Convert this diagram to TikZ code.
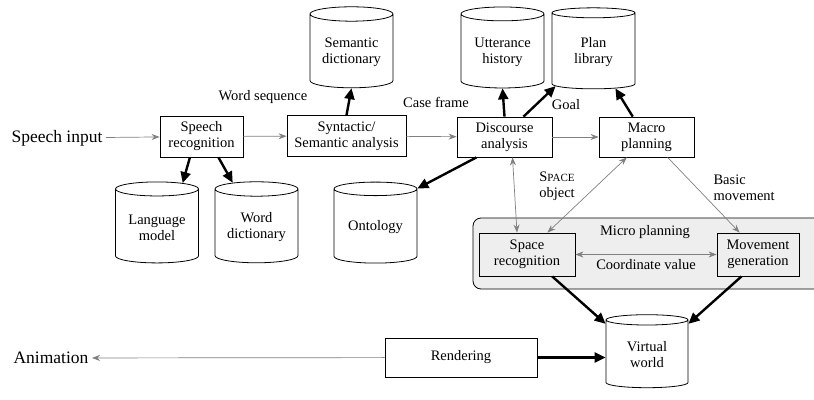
\documentclass[tikz,border=0pt]{standalone}
\usepackage{fontspec}
\setmainfont{Liberation Serif}
\usetikzlibrary{shapes.geometric,arrows.meta}

\begin{document}
\begin{tikzpicture}[x=1pt,y=-1pt,
    box/.style={draw,thick,align=center,inner sep=1pt,font=\fontsize{14.5}{16}\selectfont},
    store/.style={draw,thick,cylinder,shape border rotate=90,aspect=0.22,align=center,
      minimum width=83pt,minimum height=81pt,font=\fontsize{14.5}{16}\selectfont},
    flow/.style={gray,line width=0.7pt,-{Stealth[length=8pt,width=6pt]}},
    twoway/.style={flow,{Stealth[length=8pt,width=6pt]}-{Stealth[length=8pt,width=6pt]}},
    heavy/.style={line width=2.4pt,-{Triangle[length=11pt,width=10pt]}},
    tag/.style={text=black,font=\fontsize{14.5}{16}\selectfont,align=center}]
\useasboundingbox (0,0) rectangle (814,399);

% micro planning area
\node[draw,thick,rounded corners=8pt,fill=gray!13,minimum width=357pt,minimum height=71pt] (micro) at (651.5,253.5) {};
\node[tag] (microlbl) at (645,232) {Micro planning};

% processing boxes
\node[box,minimum width=83pt,minimum height=41pt] (sr) at (201.5,136.5) {Speech\\recognition};
\node[box,minimum width=119pt,minimum height=41pt] (sa) at (346.5,136) {Syntactic/\\Semantic analysis};
\node[box,minimum width=95pt,minimum height=40pt] (da) at (504.5,137) {Discourse\\analysis};
\node[box,minimum width=95pt,minimum height=40pt] (mp) at (646.5,137) {Macro\\planning};
\node[box,minimum width=96pt,minimum height=43pt] (spr) at (527,254.5) {Space\\recognition};
\node[box,minimum width=82pt,minimum height=43pt] (mg) at (758,254.5) {Movement\\generation};
\node[box,minimum width=152pt,minimum height=39pt] (rd) at (461,357.5) {Rendering};

% databases
\node[store] (sd) at (351.5,52.5) {Semantic\\dictionary};
\node[store] (uh) at (502.5,52.5) {Utterance\\history};
\node[store] (pl) at (593.5,52) {Plan\\library};
\node[store] (lm) at (157,227.5) {Language\\model};
\node[store] (wd) at (256.5,227.5) {Word\\dictionary};
\node[store] (ont) at (375.5,227.5) {Ontology};
\node[store,minimum width=82pt,minimum height=73pt] (vw) at (647,355) {Virtual\\world};

% input / output
\node[font=\fontsize{17.5}{19}\selectfont,anchor=east] (in) at (106,138) {Speech input};
\node[font=\fontsize{17.5}{19}\selectfont,anchor=east] (anim) at (92,358) {Animation};

% labels
\node[tag] (wseq) at (263,97) {Word sequence};
\node[tag] (cf) at (436,102) {Case frame};
\node[tag] (goal) at (566,105) {Goal};
\node[tag] (so) at (557,186) {S{\fontsize{11}{12}\selectfont PACE}\\object};
\node[tag,anchor=west,align=left] (bm) at (710,188) {Basic\\movement};

% data flow
\draw[flow] (in) -- (sr);
\draw[flow] (sr) -- (sa);
\draw[flow] (sa) -- (da);
\draw[flow] (da) -- (mp);
\draw[twoway] ([xshift=8pt]da.south) -- ([xshift=-10pt]spr.north);
\draw[twoway] (mp.226) -- (spr.47);
\draw[flow] (mp.316) -- (mg.130);
\draw[twoway] (spr) -- node[tag,below=1pt] (cv) {Coordinate value} (mg);
\draw[flow] (rd) -- (anim);

% access to stores
\draw[heavy] (sr.241) -- (lm.60);
\draw[heavy] (sr.309) -- (wd.118);
\draw[heavy] (sa.north) -- (sd.south);
\draw[heavy] (da.north) -- (uh.south);
\draw[heavy] (da.47) -- (pl.222);
\draw[heavy] (mp.124) -- (pl.301);
\draw[heavy] (da.216) -- (ont.43);
\draw[heavy] (spr.319) -- (vw.143);
\draw[heavy] (mg.233) -- (vw.37);
\draw[heavy] (rd.east) -- (rd.east -| vw.west);
\end{tikzpicture}
\end{document}
